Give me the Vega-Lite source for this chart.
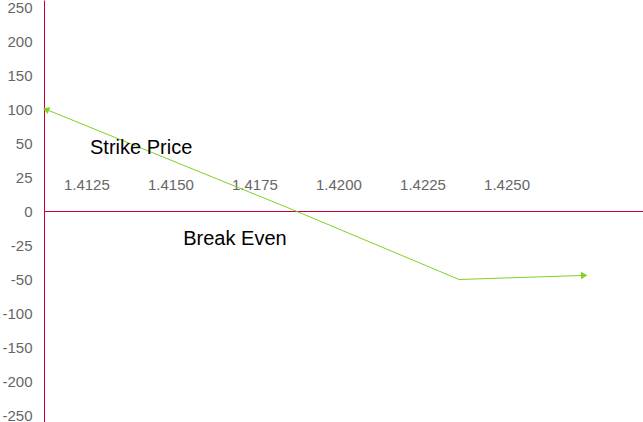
{
  "$schema": "https://vega.github.io/schema/vega-lite/v6.json",
  "width": 599,
  "height": 422,
  "autosize": "none",
  "padding": {"left": 44, "top": 0, "right": 0, "bottom": 0},
  "background": "white",
  "config": {"view": {"stroke": null}, "font": "Liberation Sans"},
  "datasets": {
    "pnl": [
      {"price": 1.4113, "pl": 100},
      {"price": 1.41877, "pl": 0},
      {"price": 1.42359, "pl": -50},
      {"price": 1.42731, "pl": -47}
    ],
    "notes": [
      {"price": 1.41413, "pl": 47, "label": "Strike Price"},
      {"price": 1.41692, "pl": -20, "label": "Break Even"}
    ]
  },
  "layer": [
    {
      "data": {"name": "pnl"},
      "transform": [{"filter": "datum.pl == 0"}],
      "mark": {"type": "rule", "color": "#c8003c", "strokeWidth": 1},
      "encoding": {
        "y": {"field": "pl", "type": "quantitative"}
      }
    },
    {
      "data": {"name": "pnl"},
      "mark": {"type": "line", "color": "#7ed321", "strokeWidth": 1},
      "encoding": {
        "x": {
          "field": "price", "type": "quantitative",
          "scale": {"domain": [1.41124, 1.42906], "zero": false, "nice": false},
          "axis": {
            "orient": "top", "offset": -211, "title": null,
            "values": [1.4125, 1.415, 1.4175, 1.42, 1.4225, 1.425],
            "tickCount": 20,
            "format": ".4f", "grid": false, "ticks": false, "domain": false,
            "labelOverlap": false,
            "labelColor": "#666666", "labelFontSize": 15, "labelPadding": 19,
            "labelFont": "Liberation Sans"
          }
        },
        "y": {
          "field": "pl", "type": "quantitative",
          "scale": {"domain": [-260.29, -50, 50, 260.29], "range": [422, 279.5, 143.5, 0], "zero": false, "nice": false},
          "axis": {
            "title": null,
            "values": [-250, -200, -150, -100, -50, -25, 0, 25, 50, 100, 150, 200, 250],
            "tickCount": 30,
            "labelExpr": "replace(datum.label, '−', '-')",
            "labelOverlap": false, "labelBound": false,
            "grid": false, "ticks": false,
            "domainColor": "#c8003c", "domainWidth": 1,
            "labelColor": "#666666", "labelFontSize": 15, "labelPadding": 12,
            "labelFont": "Liberation Sans"
          }
        }
      }
    },
    {
      "data": {"name": "pnl"},
      "transform": [{"filter": "datum.price == 1.4113"}],
      "mark": {"type": "point", "shape": "triangle-up", "angle": 292, "filled": true, "color": "#7ed321", "size": 55, "opacity": 1},
      "encoding": {
        "x": {"field": "price", "type": "quantitative"},
        "y": {"field": "pl", "type": "quantitative"}
      }
    },
    {
      "data": {"name": "pnl"},
      "transform": [{"filter": "datum.price == 1.42731"}],
      "mark": {"type": "point", "shape": "triangle-up", "angle": 88, "filled": true, "color": "#7ed321", "size": 55, "opacity": 1},
      "encoding": {
        "x": {"field": "price", "type": "quantitative"},
        "y": {"field": "pl", "type": "quantitative"}
      }
    },
    {
      "data": {"name": "notes"},
      "mark": {"type": "text", "color": "#000000", "fontSize": 20, "font": "Liberation Sans", "align": "center", "baseline": "middle"},
      "encoding": {
        "x": {"field": "price", "type": "quantitative"},
        "y": {"field": "pl", "type": "quantitative"},
        "text": {"field": "label"}
      }
    }
  ]
}
